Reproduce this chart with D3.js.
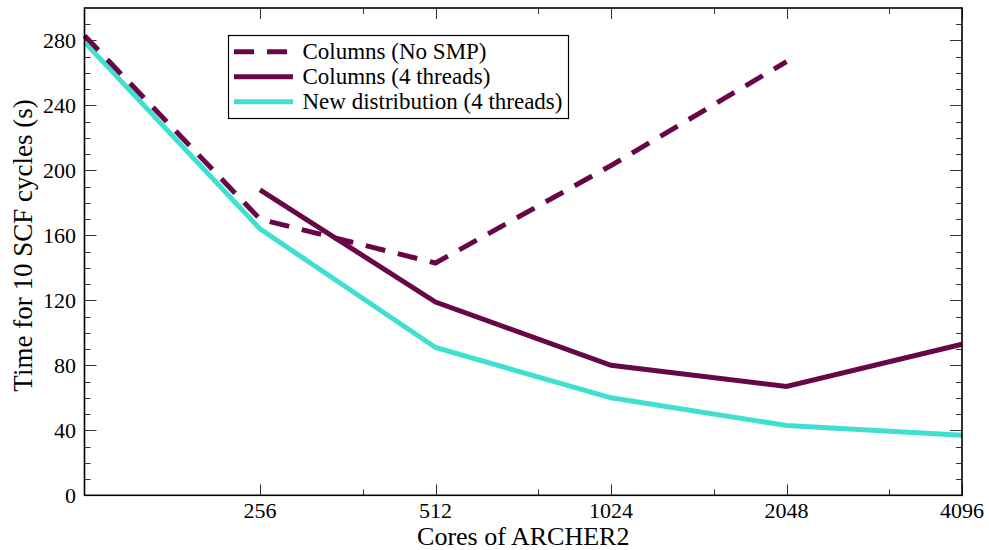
<!DOCTYPE html>
<html><head><meta charset="utf-8">
<script src="https://cdn.jsdelivr.net/npm/d3@7"></script>
<style>body{margin:0;background:#fff}svg{display:block}</style>
</head><body>
<script>
const cores = [128, 256, 512, 1024, 2048, 4096];
const colsNoSMP = [283, 170, 143, 203, 267, null];
const cols4Threads = [null, 188, 119, 80, 67, 93];
const newDist4Threads = [279, 164, 91, 60, 43, 37];
const seriesNames = ["Columns (No SMP)", "Columns (4 threads)", "New distribution (4 threads)"];
const xMajorTicks = [256, 512, 1024, 2048, 4096];
const xMinorTicks = [384, 768, 1536, 3072];
const yMajorTicks = [0, 40, 80, 120, 160, 200, 240, 280];
const yMinorTicks = d3.range(10, 300, 10).filter(v => v % 40 !== 0);

const W = 989, H = 550;
const L = 84.5, R = 962, T = 8, B = 495.3;
const maroon = "#670748", turq = "#40e0d0";

const svg = d3.select("body").append("svg").attr("width", W).attr("height", H);
const x = d3.scaleLog().base(2).domain([128, 4096]).range([L, R]);
const y = d3.scaleLinear().domain([0, 300]).range([B, T]);

const font = "'Liberation Serif', 'Times New Roman', Times, serif";

// ticks
const tg = svg.append("g").attr("stroke", "#333").attr("stroke-width", 1);
xMajorTicks.forEach(v => {
  const px = Math.round(x(v)) + 0.5;
  tg.append("line").attr("x1", px).attr("x2", px).attr("y1", B).attr("y2", B - 11);
  tg.append("line").attr("x1", px).attr("x2", px).attr("y1", T).attr("y2", T + 11);
});
xMinorTicks.forEach(v => {
  const px = Math.round(x(v)) + 0.5;
  tg.append("line").attr("x1", px).attr("x2", px).attr("y1", B).attr("y2", B - 6);
  tg.append("line").attr("x1", px).attr("x2", px).attr("y1", T).attr("y2", T + 6);
});
yMajorTicks.forEach(v => {
  const py = Math.round(y(v)) + 0.5;
  tg.append("line").attr("x1", L).attr("x2", L + 12).attr("y1", py).attr("y2", py);
  tg.append("line").attr("x1", R).attr("x2", R - 12).attr("y1", py).attr("y2", py);
});
yMinorTicks.forEach(v => {
  const py = Math.round(y(v)) + 0.5;
  tg.append("line").attr("x1", L).attr("x2", L + 6).attr("y1", py).attr("y2", py);
  tg.append("line").attr("x1", R).attr("x2", R - 6).attr("y1", py).attr("y2", py);
});

// tick labels
svg.append("g").selectAll("text").data(xMajorTicks).join("text")
  .attr("x", d => x(d)).attr("y", 518).attr("text-anchor", "middle")
  .attr("font-family", font).attr("font-size", 22).attr("fill", "#000").text(d => d);
svg.append("g").selectAll("text").data(yMajorTicks).join("text")
  .attr("x", 76).attr("y", d => y(d)).attr("dy", "0.35em").attr("text-anchor", "end")
  .attr("font-family", font).attr("font-size", 22).attr("fill", "#000").text(d => d);

// axis titles
svg.append("text").attr("x", (L + R) / 2).attr("y", 545).attr("text-anchor", "middle")
  .attr("font-family", font).attr("font-size", 26).attr("fill", "#000").text("Cores of ARCHER2");
svg.append("text").attr("transform", `translate(32,245.5) rotate(-90)`)
  .attr("text-anchor", "middle")
  .attr("font-family", font).attr("font-size", 27).attr("fill", "#000").text("Time for 10 SCF cycles (s)");

// lines
const line = d3.line().defined(d => d[1] != null).x(d => x(d[0])).y(d => y(d[1]));
const mk = arr => cores.map((c, i) => [c, arr[i]]);
const series = [
  {vals: colsNoSMP, color: maroon, dash: "20 13"},
  {vals: cols4Threads, color: maroon, dash: null},
  {vals: newDist4Threads, color: turq, dash: null}
];
[series[2], series[1], series[0]].forEach(s => {
  svg.append("path").datum(mk(s.vals)).attr("d", line)
    .attr("fill", "none").attr("stroke", s.color).attr("stroke-width", 5)
    .attr("stroke-linejoin", "miter").attr("stroke-dasharray", s.dash);
});

// frame
svg.append("rect").attr("x", L).attr("y", T).attr("width", R - L).attr("height", B - T)
  .attr("fill", "none").attr("stroke", "#000").attr("stroke-width", 1.6);

// legend
const lg = svg.append("g");
lg.append("rect").attr("x", 228.5).attr("y", 35.5).attr("width", 340).attr("height", 83)
  .attr("fill", "#fff").attr("stroke", "#000").attr("stroke-width", 1.2);
series.forEach((s, i) => {
  const yy = 51.7 + i * 25;
  lg.append("line").attr("x1", 234).attr("x2", 293).attr("y1", yy).attr("y2", yy)
    .attr("stroke", s.color).attr("stroke-width", 5).attr("stroke-dasharray", s.dash);
  lg.append("text").attr("x", 302.5).attr("y", yy).attr("dy", "0.33em")
    .attr("font-family", font).attr("font-size", 23).attr("fill", "#000").text(seriesNames[i]);
});
</script>
</body></html>
